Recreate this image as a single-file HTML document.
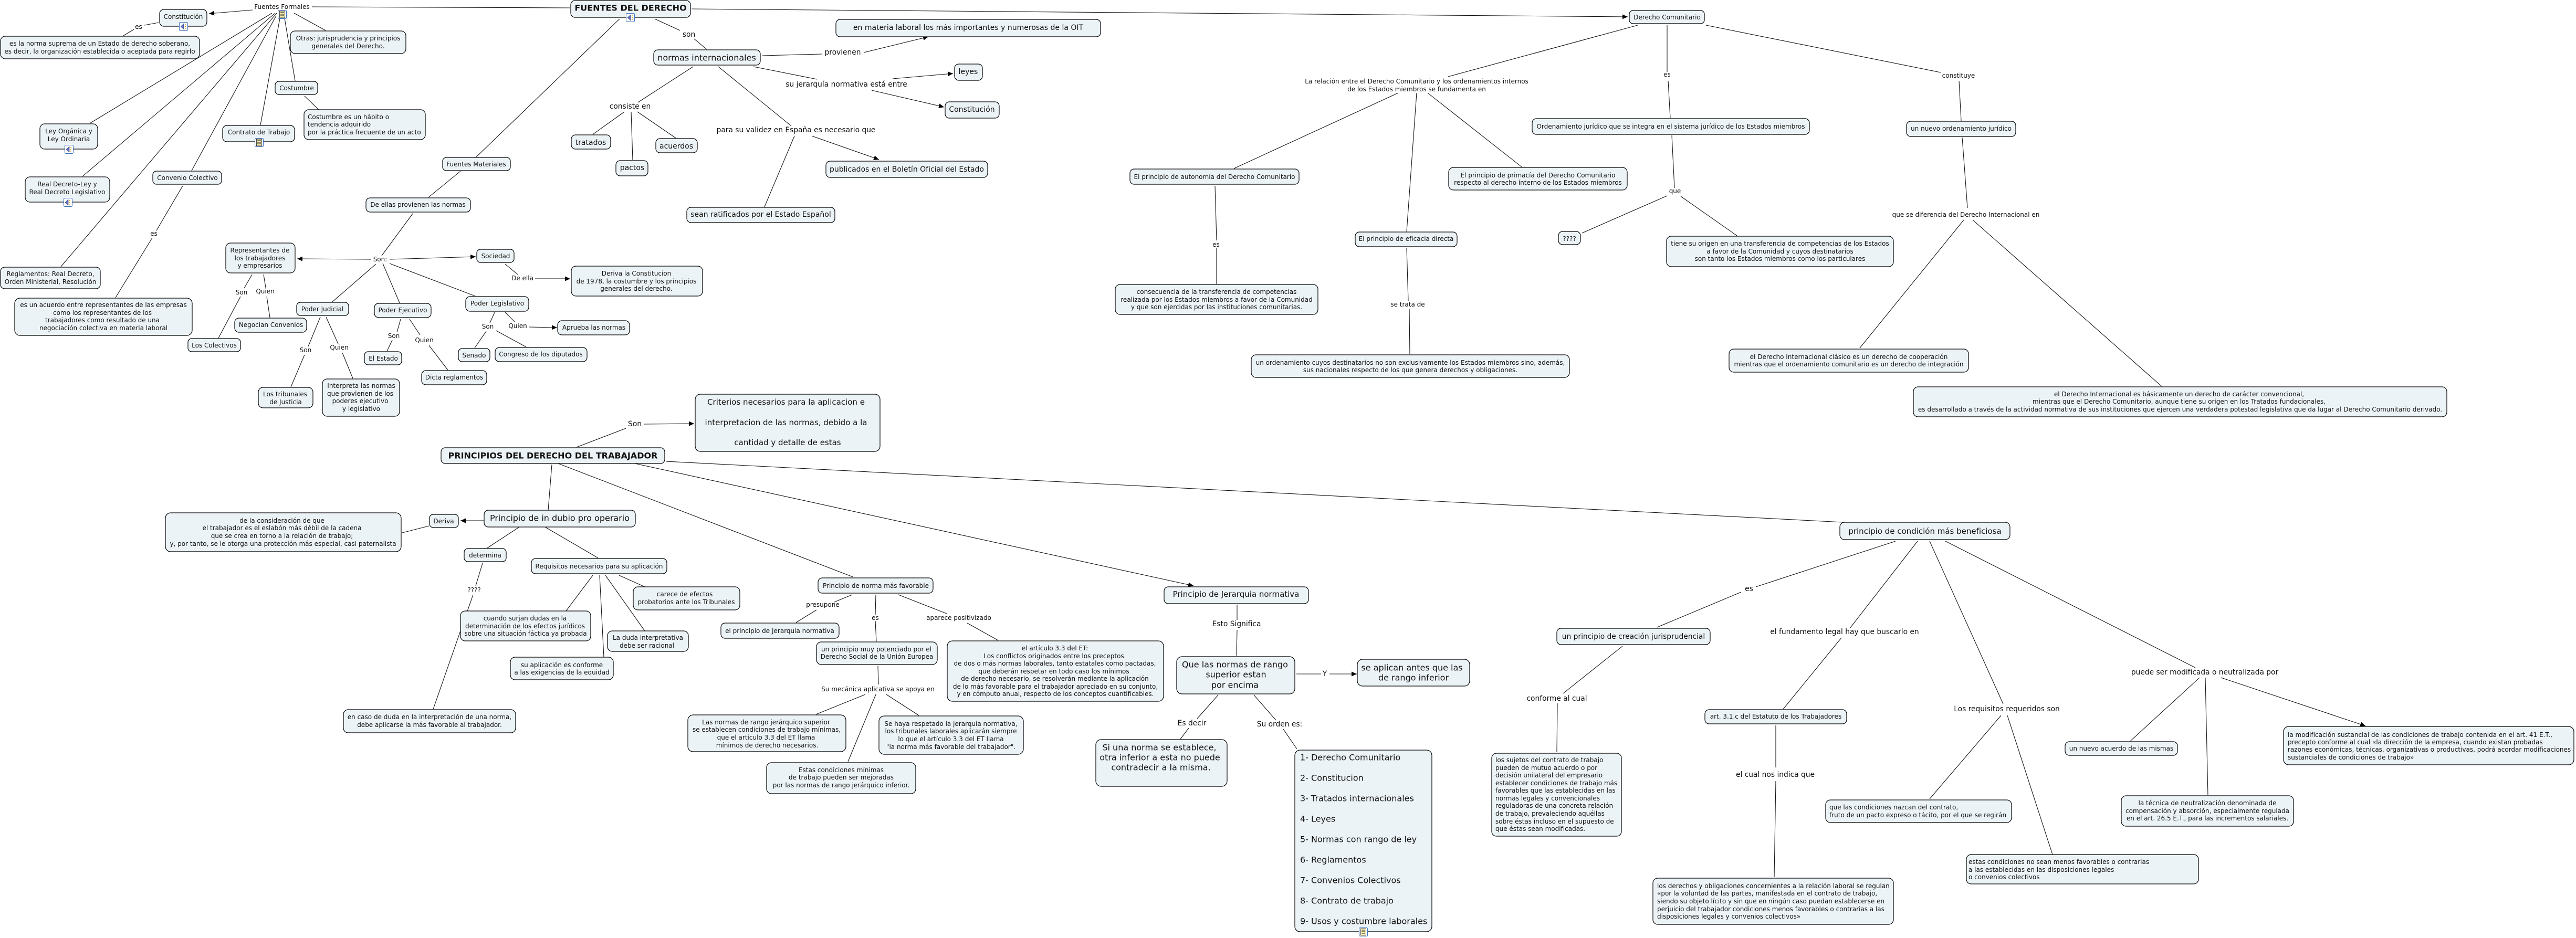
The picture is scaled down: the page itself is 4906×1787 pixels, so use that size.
<!DOCTYPE html>
<html lang="es"><head><meta charset="utf-8"><title>Fuentes del Derecho</title>
<style>
html,body{margin:0;padding:0;background:#fff}
svg{display:block}
text{font-family:"DejaVu Sans","Liberation Sans",sans-serif;fill:#111;text-anchor:middle;dominant-baseline:central;font-size:12px}
.l{text-anchor:start}
.b{font-weight:bold;font-size:16px}
.s13{font-size:13.8px}.s14{font-size:14px}.s15{font-size:15px}.s16{font-size:16px}
.n rect{fill:#ecf3f6;stroke:#000;stroke-width:1.2}
.c path{fill:none;stroke:#111;stroke-width:1.1}
</style></head><body>
<svg xmlns="http://www.w3.org/2000/svg" width="4906" height="1787" viewBox="0 0 4906 1787">
<defs>
<marker id="a" markerUnits="userSpaceOnUse" markerWidth="11" markerHeight="10" refX="10" refY="4.5" orient="auto"><path d="M0 0L10 4.5L0 9z" fill="#000"/></marker>
<symbol id="sp" viewBox="0 0 17 17"><rect x=".5" y=".5" width="16" height="16" rx="2" fill="#fff" stroke="#3a6fc0"/><path d="M3 8.500L9 3V14z" fill="#5a6fc8" stroke="#223"  stroke-width=".5"/><path d="M11 5h2M11 8.500h2M11 12h2" stroke="#d8a020" stroke-width="1.500"/></symbol>
<symbol id="dc" viewBox="0 0 17 17"><rect x=".5" y=".5" width="16" height="16" rx="2" fill="#fff" stroke="#3a6fc0"/><rect x="3.500" y="2" width="10" height="13" fill="#f6eeb0" stroke="#222" stroke-width=".8"/><path d="M5 5h7M5 8h7M5 11h7" stroke="#222"/></symbol>
</defs>
<rect width="4906" height="1787" fill="#fff"/>
<g class="c">
<path d="M481 19L398 26" marker-end="url(#a)"/>
<path d="M594 13L1085 15"/>
<path d="M302 43L275 48M255 56L235 68"/>
<path d="M518 25L171 235M524 25L157 336M527 25L116 508M526 30L365 325M533 35L496 238M542 35L562 154M560 25L620 58M580 183L607 209"/>
<path d="M348 354L298 439M290 453L220 567"/>
<path d="M1317 17L3100 32" marker-end="url(#a)"/>
<path d="M1247 36L1295 58M1322 74L1346 94M1180 36L906 300M877 326L816 376M786 407L727 487"/>
<path d="M1452 106L1565 103"/><path d="M1645 100L1768 70" marker-end="url(#a)"/>
<path d="M1435 127L1556 151"/><path d="M1700 150L1815 140" marker-end="url(#a)"/><path d="M1660 172L1798 204" marker-end="url(#a)"/>
<path d="M1320 127L1215 195M1189 213L1129 256M1202 213L1205 305M1214 213L1287 263"/>
<path d="M1368 127L1507 240M1513 259L1456 394"/><path d="M1546 259L1674 304" marker-end="url(#a)"/>
<path d="M707 494L566 493" marker-end="url(#a)"/><path d="M742 494L906 489" marker-end="url(#a)"/>
<path d="M716 503L633 575M729 502L761 577M742 502L905 564"/>
<path d="M480 523L465 549M458 565L416 644M502 523L506 548M508 565L514 605"/>
<path d="M610 604L587 660M580 676L554 737M621 604L644 655M652 672L672 721"/>
<path d="M763 608L756 633M747 648L737 669M780 608L800 638M817 658L853 705"/>
<path d="M962 503L986 523"/><path d="M1019 531L1086 531" marker-end="url(#a)"/>
<path d="M942 595L933 615M926 631L904 663M945 630L1002 661M962 595L980 613"/><path d="M1008 623L1061 624" marker-end="url(#a)"/>
<path d="M1192 816L1098 852"/><path d="M1226 808L1322 807" marker-end="url(#a)"/>
<path d="M1051 885L1044 972M1063 883L1624 1099"/><path d="M1209 883L2273 1116" marker-end="url(#a)"/>
<path d="M1269 879L3510 995"/>
<path d="M922 992L877 992" marker-end="url(#a)"/>
<path d="M817 1002L766 1015M989 1004L928 1044M1038 1004L1139 1063M919 1073L906 1116M901 1133L825 1351"/>
<path d="M1129 1096L1078 1164M1142 1096L1150 1252M1153 1096L1228 1202M1179 1096L1228 1118"/>
<path d="M1623 1133L1589 1147M1555 1162L1516 1186M1668 1133L1667 1171M1667 1183L1669 1222M1711 1133L1803 1169M1842 1187L1901 1220M1672 1269L1673 1304M1648 1323L1554 1361M1668 1323L1615 1451M1688 1323L1750 1363"/>
<path d="M2356 1152L2356 1181M2356 1200L2355 1249M2469 1284L2516 1284"/><path d="M2532 1284L2584 1284" marker-end="url(#a)"/>
<path d="M2320 1324L2280 1369M2264 1387L2248 1408M2388 1324L2430 1372M2444 1389L2470 1427"/>
<path d="M3119 48L2758 146M2663 177L2350 321M2698 177L2679 441M2719 177L2898 318"/>
<path d="M3175 48L3175 137M3177 154L3181 225M3184 258L3189 358M3175 373L3013 444M3201 374L3308 449"/>
<path d="M2314 354L2317 458M2317 473L2317 541M2679 472L2682 573M2684 588L2685 675"/>
<path d="M3249 48L3696 138M3731 154L3735 230M3737 262L3747 396M3740 419L3542 663M3757 419L4117 736"/>
<path d="M3610 1031L3344 1118M3316 1128L3156 1195M3090 1231L2977 1321M2966 1340L2965 1433"/>
<path d="M3652 1031L3523 1197M3507 1215L3396 1351M3382 1382L3382 1462M3382 1488L3379 1671"/>
<path d="M3675 1031L3815 1341M3811 1363L3675 1522M3823 1363L3909 1628"/>
<path d="M3705 1031L4181 1272M4189 1291L4057 1412M4200 1291L4205 1515"/><path d="M4230 1291L4505 1383" marker-end="url(#a)"/>
</g>
<g class="n">
<rect x="304" y="18" width="90" height="32" rx="8"/>
<rect x="1" y="69" width="379" height="43" rx="9"/>
<rect x="553" y="59" width="220" height="43" rx="9"/>
<rect x="524" y="155" width="81" height="25" rx="7"/>
<rect x="579" y="209" width="231" height="57" rx="9"/>
<rect x="76" y="236" width="110" height="48" rx="9"/>
<rect x="48" y="337" width="161" height="48" rx="9"/>
<rect x="424" y="239" width="137" height="31" rx="8"/>
<rect x="291" y="326" width="131" height="25" rx="7"/>
<rect x="697" y="377" width="199" height="27" rx="8"/>
<rect x="843" y="300" width="129" height="25" rx="7"/>
<rect x="1" y="509" width="190" height="41" rx="8"/>
<rect x="430" y="463" width="132" height="57" rx="9"/>
<rect x="28" y="568" width="338" height="71" rx="10"/>
<rect x="358" y="645" width="100" height="25" rx="7"/>
<rect x="447" y="606" width="137" height="27" rx="8"/>
<rect x="565" y="576" width="99" height="25" rx="7"/>
<rect x="713" y="578" width="108" height="27" rx="8"/>
<rect x="694" y="670" width="71" height="25" rx="7"/>
<rect x="803" y="706" width="124" height="27" rx="8"/>
<rect x="492" y="738" width="104" height="39" rx="9"/>
<rect x="614" y="722" width="147" height="71" rx="9"/>
<rect x="908" y="475" width="71" height="25" rx="7"/>
<rect x="1088" y="507" width="250" height="57" rx="9"/>
<rect x="887" y="565" width="120" height="28" rx="8"/>
<rect x="1062" y="611" width="137" height="27" rx="8"/>
<rect x="873" y="664" width="60" height="25" rx="7"/>
<rect x="943" y="662" width="175" height="27" rx="8"/>
<rect x="1087" y="1" width="228" height="32" rx="8"/>
<rect x="1245" y="95" width="203" height="29" rx="8"/>
<rect x="1088" y="257" width="75" height="27" rx="8"/>
<rect x="1173" y="306" width="61" height="29" rx="8"/>
<rect x="1249" y="264" width="79" height="27" rx="8"/>
<rect x="1308" y="395" width="282" height="29" rx="8"/>
<rect x="1573" y="307" width="308" height="31" rx="8"/>
<rect x="1592" y="37" width="504" height="33" rx="8"/>
<rect x="1818" y="122" width="53" height="31" rx="8"/>
<rect x="1800" y="194" width="103" height="31" rx="8"/>
<rect x="1324" y="751" width="352" height="109" rx="10"/>
<rect x="840" y="853" width="426" height="30" rx="8"/>
<rect x="922" y="972" width="288" height="32" rx="8"/>
<rect x="818" y="980" width="55" height="25" rx="7"/>
<rect x="315" y="977" width="449" height="74" rx="10"/>
<rect x="884" y="1045" width="80" height="25" rx="7"/>
<rect x="1012" y="1064" width="258" height="29" rx="8"/>
<rect x="877" y="1164" width="248" height="57" rx="9"/>
<rect x="972" y="1252" width="196" height="43" rx="9"/>
<rect x="1157" y="1202" width="154" height="39" rx="9"/>
<rect x="1206" y="1118" width="203" height="44" rx="9"/>
<rect x="654" y="1352" width="328" height="44" rx="9"/>
<rect x="1558" y="1101" width="219" height="29" rx="8"/>
<rect x="1373" y="1187" width="225" height="29" rx="8"/>
<rect x="1555" y="1223" width="230" height="43" rx="9"/>
<rect x="1310" y="1362" width="301" height="70" rx="10"/>
<rect x="1674" y="1364" width="275" height="73" rx="10"/>
<rect x="1460" y="1453" width="284" height="59" rx="9"/>
<rect x="1804" y="1221" width="412" height="115" rx="10"/>
<rect x="2217" y="1118" width="275" height="32" rx="8"/>
<rect x="2241" y="1251" width="225" height="71" rx="10"/>
<rect x="2585" y="1256" width="214" height="51" rx="10"/>
<rect x="2087" y="1409" width="250" height="89" rx="10"/>
<rect x="2466" y="1429" width="261" height="346" rx="10"/>
<rect x="3103" y="20" width="143" height="25" rx="7"/>
<rect x="2152" y="322" width="322" height="29" rx="8"/>
<rect x="2759" y="319" width="340" height="43" rx="9"/>
<rect x="2918" y="226" width="528" height="30" rx="8"/>
<rect x="2968" y="441" width="42" height="25" rx="8"/>
<rect x="2581" y="442" width="194" height="28" rx="8"/>
<rect x="2124" y="542" width="386" height="57" rx="9"/>
<rect x="2383" y="676" width="606" height="43" rx="9"/>
<rect x="3631" y="231" width="208" height="29" rx="8"/>
<rect x="3174" y="450" width="432" height="58" rx="9"/>
<rect x="3293" y="665" width="456" height="44" rx="9"/>
<rect x="3644" y="737" width="1016" height="57" rx="9"/>
<rect x="3504" y="995" width="324" height="33" rx="9"/>
<rect x="2965" y="1197" width="292" height="31" rx="8"/>
<rect x="2841" y="1435" width="247" height="158" rx="9"/>
<rect x="3247" y="1352" width="270" height="27" rx="8"/>
<rect x="3148" y="1673" width="458" height="88" rx="9"/>
<rect x="3477" y="1524" width="354" height="43" rx="9"/>
<rect x="3745" y="1628" width="442" height="56" rx="9"/>
<rect x="3933" y="1413" width="214" height="26" rx="8"/>
<rect x="4040" y="1516" width="328" height="58" rx="9"/>
<rect x="4349" y="1384" width="553" height="73" rx="10"/>
</g>
<use href="#dc" x="529" y="19" width="17" height="17"/>
<use href="#sp" x="341" y="42" width="17" height="17"/>
<use href="#sp" x="123" y="276" width="17" height="17"/>
<use href="#sp" x="121" y="377" width="17" height="17"/>
<use href="#dc" x="485" y="263" width="17" height="17"/>
<use href="#sp" x="1192" y="25" width="17" height="17"/>
<use href="#dc" x="2588" y="1767" width="17" height="17"/>
<text x="537" y="13">Fuentes Formales</text>
<text x="349" y="32">Constitución</text>
<text x="264" y="51">es</text>
<text x="190" y="83">es la norma suprema de un Estado de derecho soberano,</text>
<text x="190" y="98">es decir, la organización establecida o aceptada para regirlo</text>
<text x="663" y="73">Otras: jurisprudencia y principios</text>
<text x="663" y="88">generales del Derecho.</text>
<text x="565" y="168">Costumbre</text>
<text class="l" x="586" y="223">Costumbre es un hábito o</text>
<text class="l" x="586" y="237">tendencia adquirido</text>
<text class="l" x="586" y="252">por la práctica frecuente de un acto</text>
<text x="131" y="250">Ley Orgánica y</text>
<text x="131" y="265">Ley Ordinaria</text>
<text x="128" y="351">Real Decreto-Ley y</text>
<text x="128" y="366">Real Decreto Legislativo</text>
<text x="493" y="252">Contrato de Trabajo</text>
<text x="357" y="339">Convenio Colectivo</text>
<text x="293" y="445">es</text>
<text x="796" y="390">De ellas provienen las normas</text>
<text x="907" y="313">Fuentes Materiales</text>
<text x="96" y="522">Reglamentos: Real Decreto,</text>
<text x="96" y="537">Orden Ministerial, Resolución</text>
<text x="724" y="494">Son:</text>
<text x="495" y="477">Representantes de</text>
<text x="495" y="492">los trabajadores</text>
<text x="495" y="506">y empresarios</text>
<text x="197" y="581">es un acuerdo entre representantes de las empresas</text>
<text x="195" y="596">como los representantes de los</text>
<text x="195" y="610">trabajadores como resultado de una</text>
<text x="197" y="625">negociación colectiva en materia laboral</text>
<text x="408" y="658">Los Colectivos</text>
<text x="516" y="619">Negocian Convenios</text>
<text x="460" y="557">Son</text>
<text x="505" y="555">Quien</text>
<text x="614" y="589">Poder Judicial</text>
<text x="767" y="591">Poder Ejecutivo</text>
<text x="730" y="683">El Estado</text>
<text x="750" y="640">Son</text>
<text x="808" y="648">Quien</text>
<text x="865" y="719">Dicta reglamentos</text>
<text x="582" y="667">Son</text>
<text x="646" y="662">Quien</text>
<text x="543" y="751">Los tribunales</text>
<text x="544" y="766">de Justicia</text>
<text x="688" y="735">Interpreta las normas</text>
<text x="686" y="750">que provienen de los</text>
<text x="686" y="764">poderes ejecutivo</text>
<text x="688" y="779">y legislativo</text>
<text x="944" y="488">Sociedad</text>
<text x="995" y="530">De ella</text>
<text x="1212" y="521">Deriva la Constitucion</text>
<text x="1212" y="536">de 1978, la costumbre y los  principios</text>
<text x="1212" y="550">generales del derecho.</text>
<text x="947" y="578">Poder Legislativo</text>
<text x="929" y="622">Son</text>
<text x="986" y="621">Quien</text>
<text x="1131" y="624">Aprueba las normas</text>
<text x="903" y="677">Senado</text>
<text x="1030" y="675">Congreso de los diputados</text>
<text class="b" x="1201" y="15">FUENTES DEL DERECHO</text>
<text x="1312" y="66" class="s13">son</text>
<text class="s16" x="1346" y="110">normas internacionales</text>
<text class="s13" x="1200" y="203">consiste en</text>
<text class="s14" x="1125" y="272">tratados</text>
<text class="s14" x="1204" y="320">pactos</text>
<text class="s14" x="1288" y="279">acuerdos</text>
<text class="s13" x="1516" y="248">para su validez en España es necesario que</text>
<text class="s14" x="1449" y="409">sean ratificados por el Estado Español</text>
<text class="s14" x="1727" y="323">publicados en el Boletín Oficial del Estado</text>
<text class="s13" x="1605" y="100">provienen</text>
<text class="s14" x="1844" y="53">en materia laboral los más importantes y numerosas de la OIT</text>
<text class="s13" x="1612" y="161">su jerarquía normativa está entre</text>
<text class="s14" x="1844" y="137">leyes</text>
<text class="s14" x="1851" y="209">Constitución</text>
<text class="s15" x="1497" y="766">Criterios necesarios para la aplicacion e</text>
<text class="s15" x="1497" y="805">interpretacion de las normas, debido a la</text>
<text class="s15" x="1500" y="843">cantidad y detalle de estas</text>
<text class="s14" x="1209" y="808">Son</text>
<text class="b" x="1053" y="868">PRINCIPIOS DEL DERECHO DEL TRABAJADOR</text>
<text class="s16" x="1066" y="987">Principio de in dubio pro operario</text>
<text x="845" y="993">Deriva</text>
<text x="537" y="992">de la consideración de que</text>
<text x="537" y="1006">el trabajador es el eslabón más débil de la cadena</text>
<text x="537" y="1021">que se crea en torno a la relación de trabajo;</text>
<text x="539" y="1036">y, por tanto, se le otorga una protección más especial, casi paternalista</text>
<text x="924" y="1058">determina</text>
<text x="903" y="1124">????</text>
<text x="1141" y="1079">Requisitos necesarios para su aplicación</text>
<text x="1000" y="1178">cuando surjan dudas en la</text>
<text x="1000" y="1193">determinación de los efectos jurídicos</text>
<text x="1001" y="1207">sobre una situación fáctica ya probada</text>
<text x="1070" y="1267">su aplicación es conforme</text>
<text x="1070" y="1281">a las exigencias de la equidad</text>
<text x="1234" y="1215">La duda interpretativa</text>
<text x="1232" y="1230">debe ser racional</text>
<text x="1304" y="1132">carece de efectos</text>
<text x="1307" y="1147">probatorios ante los Tribunales</text>
<text x="818" y="1366">en caso de duda en la interpretación de una norma,</text>
<text x="818" y="1381">debe aplicarse la más favorable al trabajador.</text>
<text x="1668" y="1116">Principio de norma más favorable</text>
<text x="1567" y="1152">presupone</text>
<text x="1485" y="1202">el principio de Jerarquía normativa</text>
<text x="1667" y="1177">es</text>
<text x="1826" y="1177">aparece positivizado</text>
<text x="1669" y="1237">un principio muy potenciado por el</text>
<text x="1670" y="1251">Derecho Social de la Unión Europea</text>
<text x="1672" y="1313">Su mecánica aplicativa se apoya en</text>
<text x="1459" y="1376">Las normas de rango jerárquico superior</text>
<text x="1460" y="1390">se establecen condiciones de trabajo mínimas,</text>
<text x="1459" y="1405">que el artículo 3.3 del ET llama</text>
<text x="1461" y="1420">mínimos de derecho necesarios.</text>
<text x="1811" y="1379">Se haya respetado la jerarquía normativa,</text>
<text x="1811" y="1393">los tribunales laborales aplicarán siempre</text>
<text x="1811" y="1408">lo que el artículo 3.3 del ET llama</text>
<text x="1811" y="1423">"la norma más favorable del trabajador".</text>
<text x="1602" y="1467">Estas condiciones mínimas</text>
<text x="1602" y="1481">de trabajo pueden ser mejoradas</text>
<text x="1602" y="1496">por las normas de rango jerárquico inferior.</text>
<text x="2009" y="1235">el artículo 3.3 del ET:</text>
<text x="2007" y="1250">Los conflictos originados entre los preceptos</text>
<text x="2009" y="1264">de dos o más normas laborales, tanto estatales como pactadas,</text>
<text x="2007" y="1279">que deberán respetar en todo caso los mínimos</text>
<text x="2009" y="1293">de derecho necesario, se resolverán mediante la aplicación</text>
<text x="2010" y="1308">de lo más favorable para el trabajador apreciado en su conjunto,</text>
<text x="2010" y="1322">y en cómputo anual, respecto de los conceptos cuantificables.</text>
<text class="s15" x="2354" y="1132">Principio de Jerarquia normativa</text>
<text class="s13" x="2355" y="1189">Esto Significa</text>
<text class="s16" x="2352" y="1266">Que las normas de rango</text>
<text class="s16" x="2354" y="1285">superior estan</text>
<text class="s16" x="2352" y="1305">por encima</text>
<text class="s14" x="2523" y="1284">Y</text>
<text class="s16" x="2689" y="1272">se aplican antes que las</text>
<text class="s16" x="2692" y="1291">de rango inferior</text>
<text class="s13" x="2270" y="1378">Es decir</text>
<text class="s16" x="2208" y="1424">Si una norma se establece,</text>
<text class="s16" x="2209" y="1443">otra inferior a esta no puede</text>
<text class="s16" x="2211" y="1462">contradecir a la misma.</text>
<text class="s13" x="2437" y="1380">Su orden es:</text>
<text class="l s16" x="2476" y="1443">1- Derecho Comunitario</text>
<text class="l s16" x="2476" y="1482">2- Constitucion</text>
<text class="l s16" x="2476" y="1521">3- Tratados internacionales</text>
<text class="l s16" x="2476" y="1560">4- Leyes</text>
<text class="l s16" x="2476" y="1599">5- Normas con rango de ley</text>
<text class="l s16" x="2476" y="1638">6- Reglamentos</text>
<text class="l s16" x="2476" y="1677">7- Convenios Colectivos</text>
<text class="l s16" x="2476" y="1716">8- Contrato de trabajo</text>
<text class="l s16" x="2476" y="1755">9- Usos y costumbre laborales</text>
<text x="3175" y="33">Derecho Comunitario</text>
<text x="2698" y="155">La relación entre el Derecho Comunitario y los ordenamientos internos</text>
<text x="2698" y="170">de los Estados miembros se fundamenta en</text>
<text x="2313" y="337">El principio de autonomía del Derecho Comunitario</text>
<text x="2929" y="334">El principio de primacía del Derecho Comunitario</text>
<text x="2929" y="348">respecto al derecho interno de los Estados miembros</text>
<text x="3175" y="142">es</text>
<text x="3182" y="241">Ordenamiento jurídico que se integra en el sistema jurídico de los Estados miembros</text>
<text x="3190" y="364">que</text>
<text x="2989" y="455">????</text>
<text x="2678" y="455">El principio de eficacia directa</text>
<text x="2316" y="466">es</text>
<text x="2317" y="556">consecuencia de la transferencia de competencias</text>
<text x="2317" y="571">realizada por los Estados miembros a favor de la Comunidad</text>
<text x="2317" y="585">y que son ejercidas por las instituciones comunitarias.</text>
<text x="2681" y="580">se trata de</text>
<text x="2686" y="691">un ordenamiento cuyos destinatarios no son exclusivamente los Estados miembros sino, además,</text>
<text x="2686" y="705">sus nacionales respecto de los que genera derechos y obligaciones.</text>
<text x="3730" y="144">constituye</text>
<text x="3735" y="245">un nuevo ordenamiento jurídico</text>
<text x="3744" y="409">que se diferencia del Derecho Internacional en</text>
<text x="3390" y="464">tiene su origen en una transferencia de competencias de los Estados</text>
<text x="3390" y="479">a favor de la Comunidad y cuyos destinatarios</text>
<text x="3390" y="493">son tanto los Estados miembros como los particulares</text>
<text x="3521" y="680">el Derecho Internacional clásico es un derecho de cooperación</text>
<text x="3521" y="694">mientras que el ordenamiento comunitario es un derecho de integración</text>
<text x="4150" y="751">el Derecho Internacional es básicamente un derecho de carácter convencional,</text>
<text x="4150" y="765">mientras que el Derecho Comunitario, aunque tiene su origen en los Tratados fundacionales,</text>
<text x="4152" y="780">es desarrollado a través de la actividad normativa de sus instituciones que ejercen una verdadera potestad legislativa que da lugar al Derecho Comunitario derivado.</text>
<text class="s15" x="3666" y="1012">principio de condición más beneficiosa</text>
<text class="s13" x="3331" y="1122">es</text>
<text class="s13" x="3111" y="1213">un principio de creación jurisprudencial</text>
<text class="s13" x="2965" y="1331">conforme al cual</text>
<text class="l" x="2848" y="1448">los sujetos del contrato de trabajo</text>
<text class="l" x="2848" y="1463">pueden de mutuo acuerdo o por</text>
<text class="l" x="2848" y="1477">decisión unilateral del empresario</text>
<text class="l" x="2848" y="1492">establecer condiciones de trabajo más</text>
<text class="l" x="2848" y="1506">favorables que las establecidas en las</text>
<text class="l" x="2848" y="1521">normas legales y convencionales</text>
<text class="l" x="2848" y="1535">reguladoras de una concreta relación</text>
<text class="l" x="2848" y="1550">de trabajo, prevaleciendo aquéllas</text>
<text class="l" x="2848" y="1565">sobre éstas incluso en el supuesto de</text>
<text class="l" x="2848" y="1579">que éstas sean modificadas.</text>
<text class="s13" x="3513" y="1204">el fundamento legal hay que buscarlo en</text>
<text x="3382" y="1365">art. 3.1.c del Estatuto de los Trabajadores</text>
<text class="s13" x="3381" y="1476">el cual nos indica que</text>
<text class="l" x="3156" y="1688">los derechos y obligaciones concernientes a la relación laboral se regulan</text>
<text class="l" x="3156" y="1702">«por la voluntad de las partes, manifestada en el contrato de trabajo,</text>
<text class="l" x="3156" y="1717">siendo su objeto lícito y sin que en ningún caso puedan establecerse en</text>
<text class="l" x="3156" y="1732">perjuicio del trabajador condiciones menos favorables o contrarias a las</text>
<text class="l" x="3156" y="1746">disposiciones legales y convenios colectivos»</text>
<text class="s13" x="3822" y="1351">Los requisitos requeridos son</text>
<text class="l" x="3484" y="1538">que las condiciones nazcan del contrato,</text>
<text class="l" x="3484" y="1553">fruto de un pacto expreso o tácito, por el que se regirán</text>
<text class="l" x="3749" y="1642">estas condiciones no sean menos favorables o contrarias</text>
<text class="l" x="3749" y="1657">a las establecidas en las disposiciones legales</text>
<text class="l" x="3749" y="1671">o convenios colectivos</text>
<text class="s13" x="4199" y="1281">puede ser modificada o neutralizada por</text>
<text x="4040" y="1426">un nuevo acuerdo de las mismas</text>
<text x="4204" y="1530">la técnica de neutralización denominada de</text>
<text x="4204" y="1545">compensación y absorción, especialmente regulada</text>
<text x="4204" y="1559">en el art. 26.5 E.T., para las incrementos salariales.</text>
<text class="l" x="4357" y="1400">la modificación sustancial de las condiciones de trabajo contenida en el art. 41 E.T.,</text>
<text class="l" x="4357" y="1414">precepto conforme al cual «la dirección de la empresa, cuando existan probadas</text>
<text class="l" x="4357" y="1428">razones económicas, técnicas, organizativas o productivas, podrá acordar modificaciones</text>
<text class="l" x="4357" y="1443">sustanciales de condiciones de trabajo»</text>
</svg>
</body></html>
